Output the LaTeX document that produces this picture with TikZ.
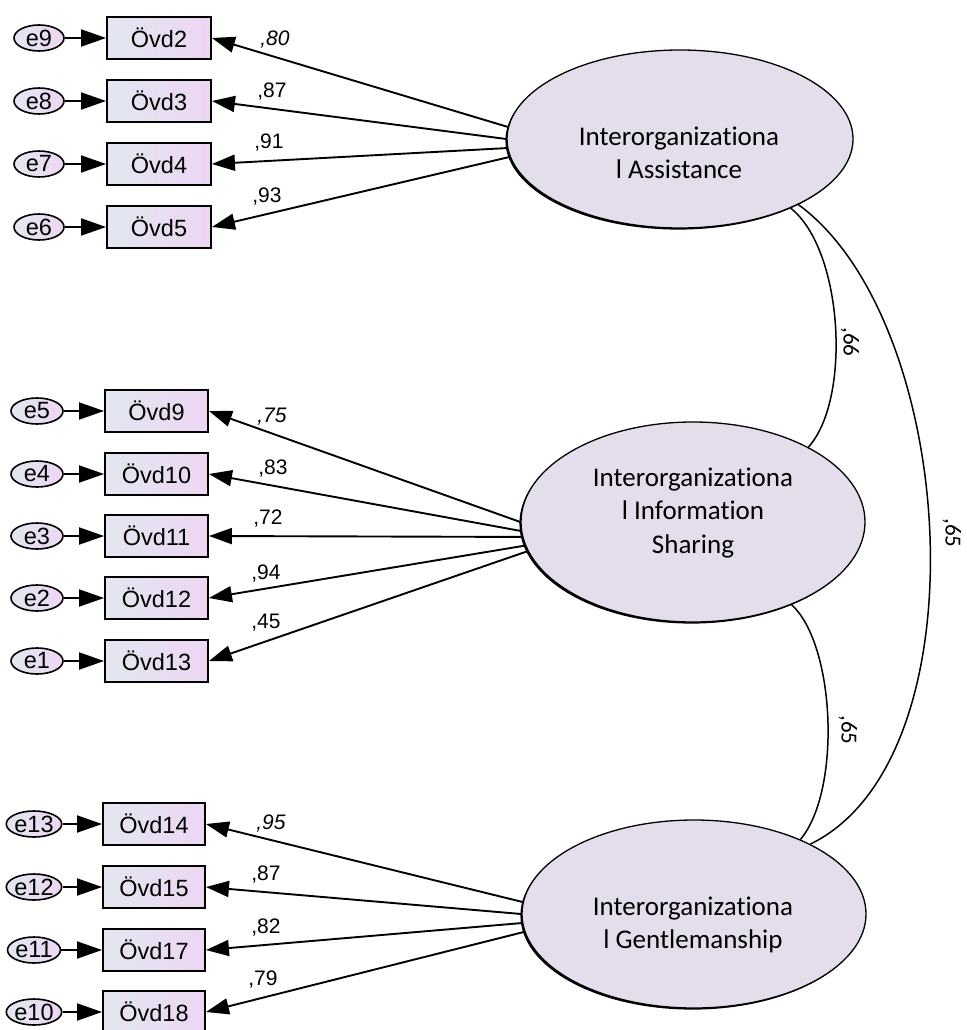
\documentclass[tikz,border=0pt]{standalone}
\usepackage{fontspec}
\setmainfont{Liberation Sans}
\newfontfamily\calfont[Ligatures=NoCommon]{Carlito}
\usetikzlibrary{arrows.meta,shapes.geometric,shadows}
\definecolor{latfill}{RGB}{228,222,236}
\definecolor{obsleft}{RGB}{226,231,241}
\definecolor{obsright}{RGB}{237,214,242}
\tikzset{
  obs/.style={draw, line width=1.9pt, minimum width=104pt, minimum height=42pt,
    inner sep=0pt, left color=obsleft, right color=obsright,
    font=\fontsize{23.5}{23.5}\selectfont},
  err/.style={ellipse, draw, line width=1.6pt, minimum width=50pt, minimum height=26pt,
    inner sep=0pt, left color=obsleft, right color=obsright,
    font=\fontsize{23.5}{23.5}\selectfont},
  lat/.style={ellipse, draw, line width=1.3pt, fill=latfill, inner sep=0pt,
    drop shadow={shadow xshift=-1.6pt, shadow yshift=-1.6pt, opacity=1, fill=black}},
  lattxt/.style={align=center, inner sep=0pt, font=\calfont\fontsize{27}{33.5}\selectfont},
  load/.style={line width=1.9pt, -{Triangle[length=23pt,width=16pt]}},
  errarr/.style={line width=1.9pt, -{Triangle[length=25pt,width=17pt]}},
  cov/.style={line width=1.5pt},
  coef/.style={inner sep=0pt, text height=14.5pt, text depth=0pt,
    font=\fontsize{21}{21}\selectfont},
  coefit/.style={coef, font=\fontsize{21}{21}\selectfont\itshape},
  covlab/.style={inner sep=0pt, rotate=-90, font=\calfont\fontsize{23}{23}\selectfont},
}
\begin{document}
\begin{tikzpicture}[x=1pt,y=-1pt]
\useasboundingbox (0,0) rectangle (966,1030);

% latent factors
\node[lat, minimum width=346pt, minimum height=178pt] (A) at (680,139) {};
\node[lat, minimum width=344pt, minimum height=200pt] (B) at (693,522) {};
\node[lat, minimum width=344pt, minimum height=188pt] (C) at (694,914) {};
\node[lattxt] (At) at (679,153) {Interorganizationa\\l Assistance};
\node[lattxt] (Bt) at (693,513) {Interorganizationa\\l Information\\Sharing};
\node[lattxt] (Ct) at (693,925) {Interorganizationa\\l Gentlemanship};

% indicators of the first factor
\foreach \n/\e/\y in {2/9/38, 3/8/101, 4/7/164, 5/6/227}{
  \node[obs] (O\n) at (159,\y) {Övd\n};
  \node[err] (E\e) at (39,\y) {e\e};
  \draw[errarr] (E\e.east) -- (O\n.west);
}
% indicators of the second factor
\foreach \n/\e/\y in {9/5/411, 10/4/474, 11/3/536, 12/2/598, 13/1/661}{
  \node[obs, minimum width=103pt] (O\n) at (156.5,\y) {Övd\n};
  \node[err, minimum width=52pt] (E\e) at (37,\y) {e\e};
  \draw[errarr] (E\e.east) -- (O\n.west);
}
% indicators of the third factor
\foreach \n/\e/\y in {14/13/824, 15/12/887, 17/11/950, 18/10/1012}{
  \node[obs, minimum width=102pt] (O\n) at (154,\y) {Övd\n};
  \node[err, minimum width=52pt] (E\e) at (34,\y) {e\e};
  \draw[errarr] (E\e.east) -- (O\n.west);
}

% factor loadings
\draw[load] (A.176) -- (O2.east);
\draw[load] (A.180) -- (O3.east);
\draw[load] (A.183) -- (O4.east);
\draw[load] (A.186) -- (O5.east);
\draw[load] (B.180) -- (O9.east);
\draw[load] (B.183) -- (O10.east);
\draw[load] (B.185) -- (O11.east);
\draw[load] (B.188) -- (O12.east);
\draw[load] (B.190) -- (O13.east);
\draw[load] (C.176) -- (O14.east);
\draw[load] (C.180) -- (O15.east);
\draw[load] (C.183) -- (O17.east);
\draw[load] (C.186) -- (O18.east);

\node[coefit] (l2) at (275,38.5) {,80};
\node[coef] (l3) at (272,90) {,87};
\node[coef] (l4) at (269,141) {,91};
\node[coef] (l5) at (267,195) {,93};
\node[coefit] (l9) at (272,415) {,75};
\node[coef] (l10) at (273,467) {,83};
\node[coef] (l11) at (268,517) {,72};
\node[coef] (l12) at (266,572) {,94};
\node[coef] (l13) at (266,621) {,45};
\node[coefit] (l14) at (271,822) {,95};
\node[coef] (l15) at (266,873) {,87};
\node[coef] (l17) at (266,926) {,82};
\node[coef] (l18) at (263,978) {,79};

% factor covariances
\draw[cov] (A.-32) .. controls +(53,42) and +(43,-47) .. (B.33);
\draw[cov] (B.-40) .. controls +(44,40) and +(41,-49) .. (C.35);
\draw[cov] (A.-29) .. controls +(160,117) and +(175,-85) .. (C.31);
\node[covlab] (cAB) at (850,342) {,66};
\node[covlab] (cBC) at (848,730) {,65};
\node[covlab] (cAC) at (952,533) {,65};
\end{tikzpicture}
\end{document}
